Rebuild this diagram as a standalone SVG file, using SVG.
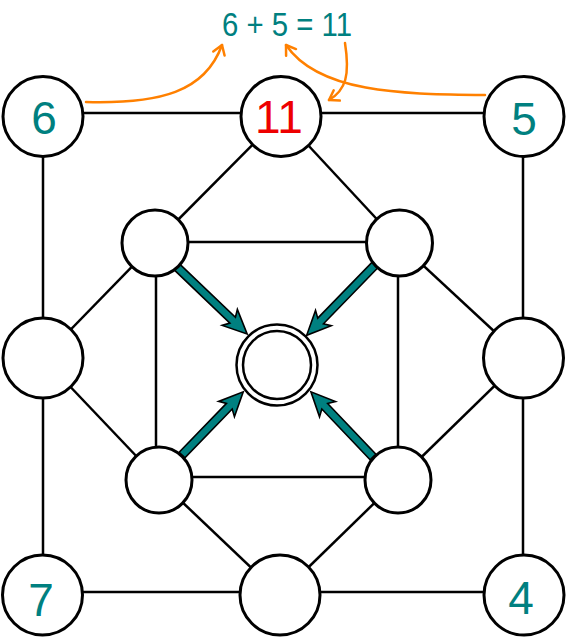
<svg xmlns="http://www.w3.org/2000/svg" width="567" height="639" viewBox="0 0 567 639">
<defs>
<style>
.edge{stroke:#000;stroke-width:2.5;fill:none}
.node{fill:#fff;stroke:#000;stroke-width:3}
.inner{fill:#fff;stroke:#000;stroke-width:3}
.ring{fill:#fff;stroke:#000;stroke-width:2.5}
.num{font-family:"Liberation Sans",Arial,sans-serif;font-size:46px;fill:#008080;text-anchor:middle}
.red{fill:#ee0000}
.eq{font-family:"Liberation Sans",Arial,sans-serif;font-size:34px;fill:#008080}
.orange{fill:none;stroke:#ff8000;stroke-width:2.5;stroke-linecap:round;marker-end:url(#oa)}
.teal{fill:#008080;stroke:#000;stroke-width:1.6;stroke-linejoin:miter}
</style>
<marker id="oa" viewBox="-12 -9 14 18" markerWidth="14" markerHeight="18" refX="0" refY="0" orient="auto" markerUnits="userSpaceOnUse">
<path d="M-9,-6 L0,0 L-9,6" fill="none" stroke="#ff8000" stroke-width="2.5" stroke-linecap="round" stroke-linejoin="round"/>
</marker>
</defs>
<rect width="567" height="639" fill="#fff"/>
<g id="connectors">
<line class="edge" x1="43" y1="113" x2="523" y2="113"/>
<line class="edge" x1="43" y1="592" x2="523" y2="592"/>
<line class="edge" x1="43" y1="113" x2="43" y2="595"/>
<line class="edge" x1="523" y1="113" x2="523" y2="595"/>
<line class="edge" x1="281" y1="116" x2="155" y2="243"/>
<line class="edge" x1="281" y1="116" x2="399" y2="243"/>
<line class="edge" x1="155" y1="242" x2="399" y2="242"/>
<line class="edge" x1="159" y1="477" x2="398" y2="477"/>
<line class="edge" x1="156" y1="243" x2="156" y2="480"/>
<line class="edge" x1="398" y1="243" x2="398" y2="480"/>
<line class="edge" x1="43" y1="358" x2="155" y2="243"/>
<line class="edge" x1="43" y1="358" x2="159" y2="480"/>
<line class="edge" x1="523" y1="358" x2="399" y2="243"/>
<line class="edge" x1="523" y1="358" x2="398" y2="480"/>
<line class="edge" x1="280" y1="595" x2="159" y2="480"/>
<line class="edge" x1="280" y1="595" x2="398" y2="480"/>
<polygon class="teal" points="0,-4 77,-4 73,-11 97,0 73,11 77,4 0,4" transform="translate(177,267) rotate(43.7)"/>
<polygon class="teal" points="0,-4 78,-4 74,-11 98,0 74,11 78,4 0,4" transform="translate(375,265) rotate(134.2)"/>
<polygon class="teal" points="0,-4 68,-4 64,-11 88,0 64,11 68,4 0,4" transform="translate(182,455) rotate(-45.9)"/>
<polygon class="teal" points="0,-4 70,-4 66,-11 90,0 66,11 70,4 0,4" transform="translate(373,457) rotate(-133.6)"/>
<path class="orange" d="M86,102 C160,104 205,92 222,45"/>
<path class="orange" d="M485,95 C410,94 320,95 286,45"/>
<path class="orange" d="M345,43 C350,75 346,90 329,100"/>
</g>
<g id="equation">
<text class="eq" x="222" y="36" textLength="130" lengthAdjust="spacingAndGlyphs">6 + 5 = 11</text>
</g>
<g id="n6"><circle class="node" cx="43" cy="116.5" r="40"/><text class="num" x="44" y="134">6</text></g>
<g id="n11"><circle class="node" cx="281" cy="116.5" r="40"/><text class="num red" x="279" y="133">11</text></g>
<g id="n5"><circle class="node" cx="524" cy="116.5" r="40"/><text class="num" x="524" y="135">5</text></g>
<g id="nLeft"><circle class="node" cx="43" cy="358" r="40"/></g>
<g id="nRight"><circle class="node" cx="523.5" cy="358" r="40"/></g>
<g id="n7"><circle class="node" cx="42.5" cy="595" r="40"/><text class="num" x="41" y="616">7</text></g>
<g id="nBottom"><circle class="node" cx="280" cy="595" r="40"/></g>
<g id="n4"><circle class="node" cx="524" cy="595" r="40"/><text class="num" x="521" y="614">4</text></g>
<g id="iTL"><circle class="inner" cx="155" cy="243" r="33"/></g>
<g id="iTR"><circle class="inner" cx="399.5" cy="243" r="33"/></g>
<g id="iBL"><circle class="inner" cx="159" cy="480" r="33"/></g>
<g id="iBR"><circle class="inner" cx="398" cy="480" r="33"/></g>
<g id="center"><circle class="ring" cx="277" cy="365" r="40.5"/><circle class="ring" cx="277" cy="365" r="34"/></g>
</svg>
